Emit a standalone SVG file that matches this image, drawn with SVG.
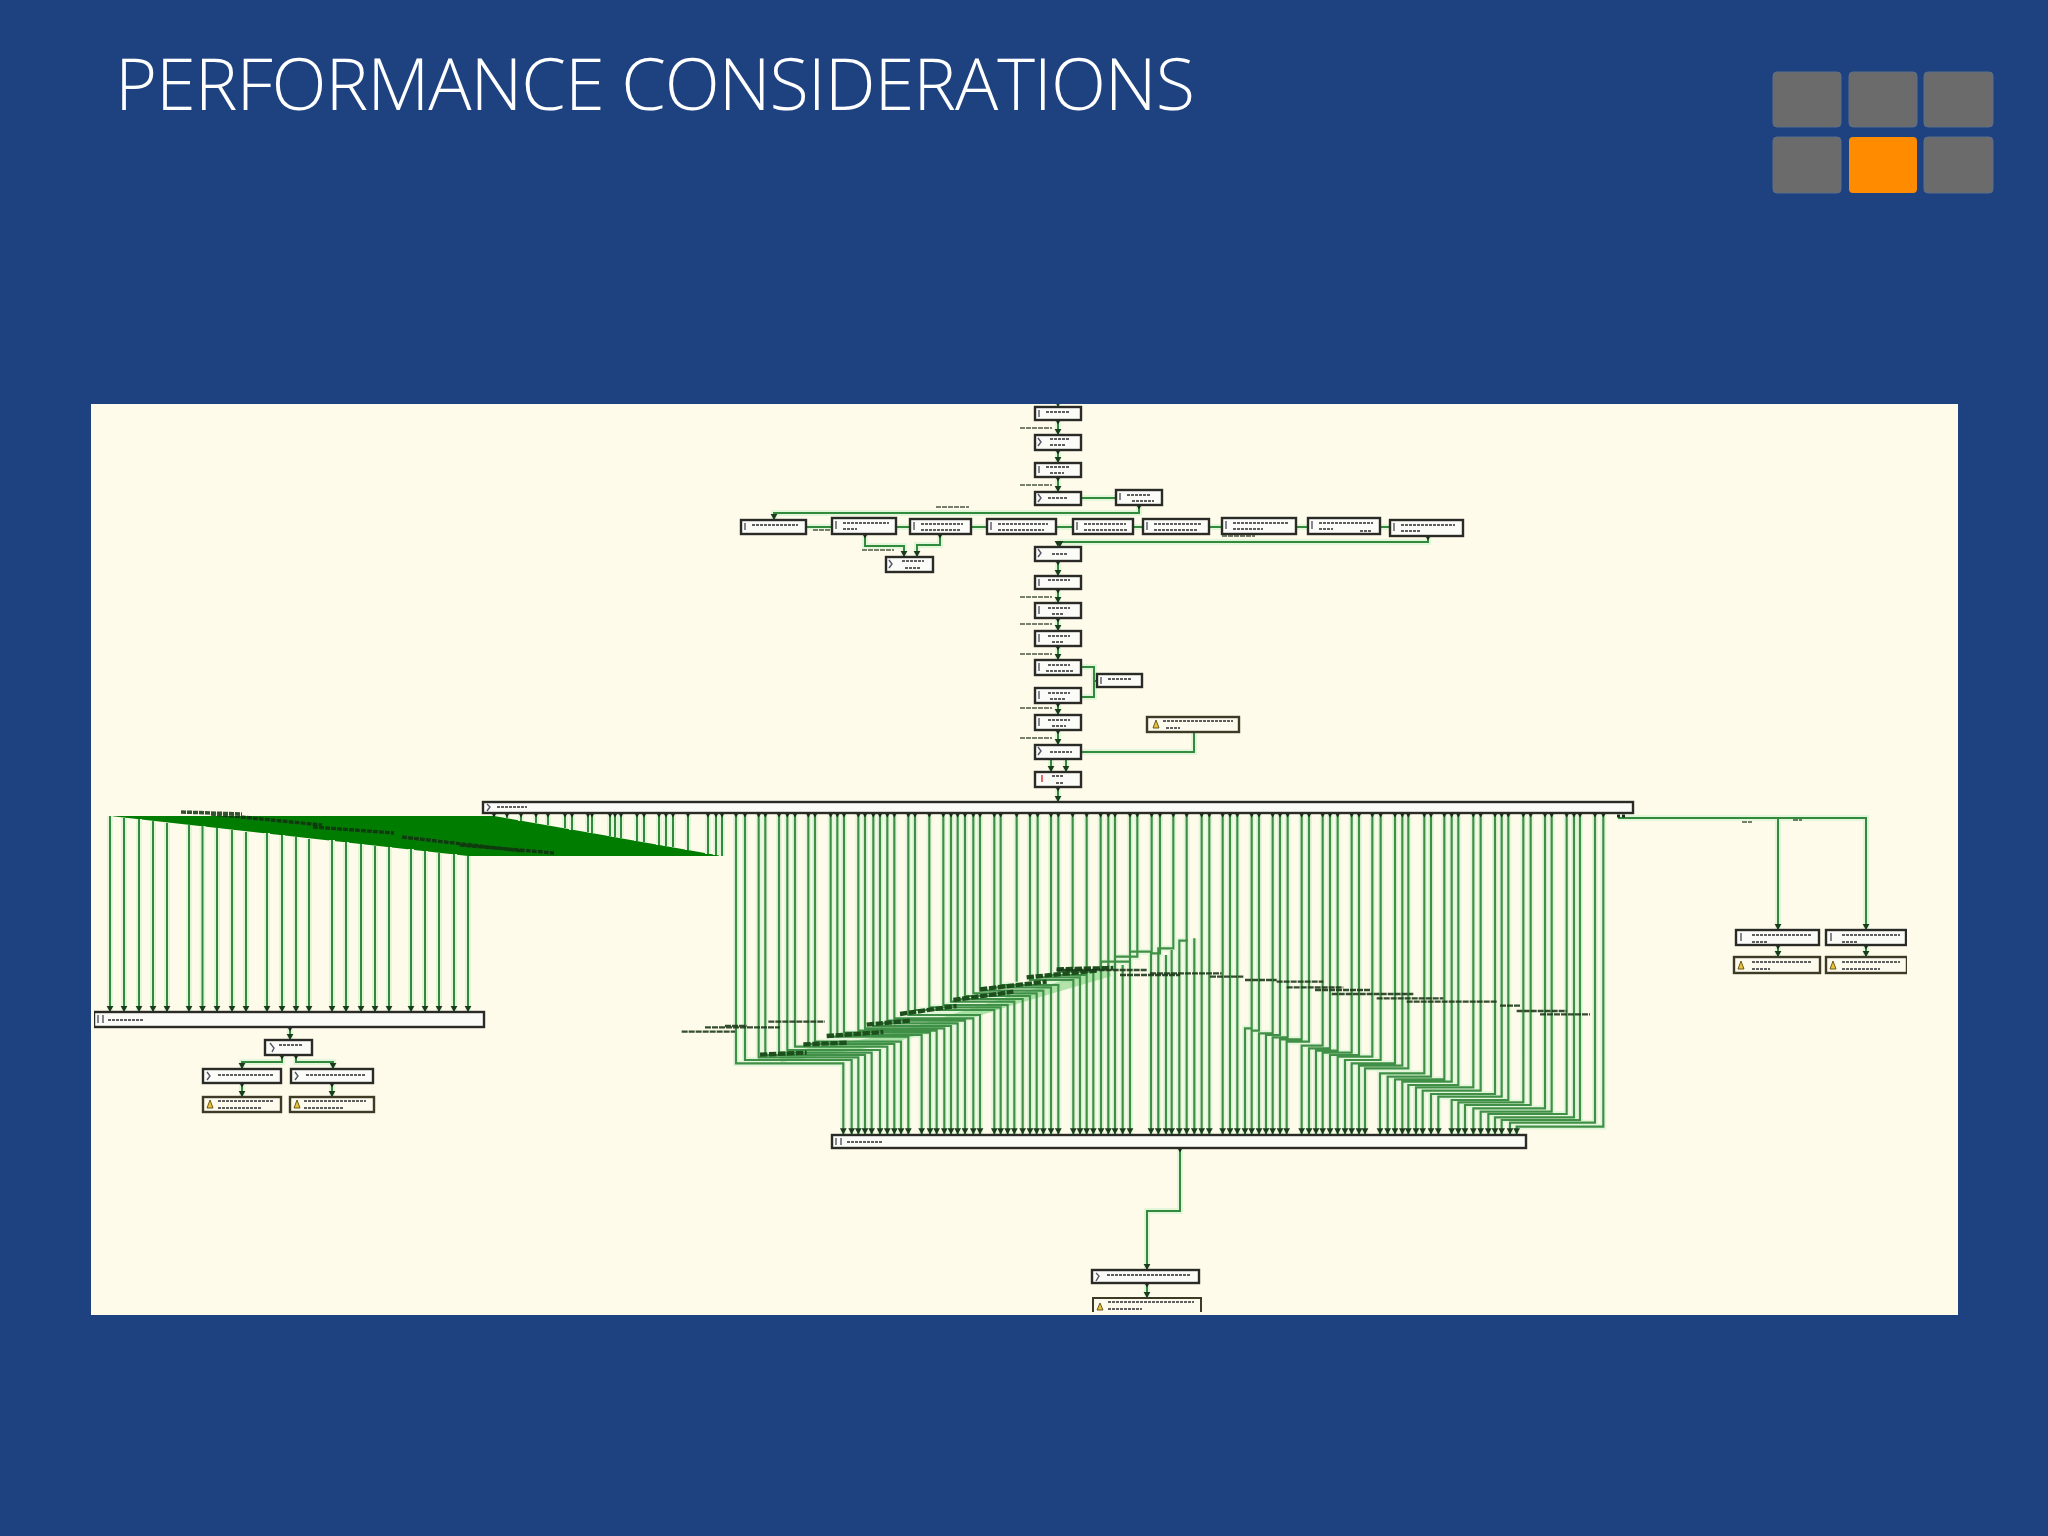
<svg xmlns="http://www.w3.org/2000/svg" width="2048" height="1536" viewBox="0 0 2048 1536">
<style>
.title{font-family:"Open Sans","Liberation Sans",sans-serif;font-weight:300;font-size:72px;fill:#fff}
.sq{fill:#6b6b6b;stroke:#5f6f88;stroke-width:1}
.n rect{fill:#fbfbf7;stroke:#2c2c28;stroke-width:2.4}
.w rect{fill:#fdfbee;stroke:#3c3a28;stroke-width:2.4}
.t{fill:none;stroke:#3a3a3a;stroke-width:2;stroke-dasharray:3 1;opacity:.8}
.ic{fill:none;stroke:#556;stroke-width:1.4}
.wi{fill:#e8c23c;stroke:#6b5a18;stroke-width:1}
.lb{fill:none;stroke:#2b3a25;stroke-width:1.6;stroke-dasharray:5 1;opacity:.85}
.lb3{fill:none;stroke:#1f3a1c;stroke-width:7;stroke-dasharray:18 3;opacity:.9}
.band{fill:none;stroke:#1d4f1d;stroke-width:13;stroke-dasharray:22 5}
.under{fill:none;stroke:#6ccc6c;stroke-width:28;opacity:.5}
.h{fill:none;stroke:#e3f6da;stroke-width:6}
.c{fill:none;stroke:#338a3c;stroke-width:2}
.h3{fill:none;stroke:#e3f6da;stroke-width:18}
.c3{fill:none;stroke:#3f8f47;stroke-width:6.500}
.ar{fill:none;stroke:none;stroke-width:2;marker-start:url(#ah);marker-mid:url(#ah);marker-end:url(#ah)}
.ar3{fill:none;stroke:none;stroke-width:6;marker-start:url(#ah);marker-mid:url(#ah);marker-end:url(#ah)}
.tk{fill:none;stroke:none;stroke-width:2;marker-start:url(#tk);marker-mid:url(#tk);marker-end:url(#tk)}
.tk3{fill:none;stroke:none;stroke-width:6;marker-start:url(#tk);marker-mid:url(#tk);marker-end:url(#tk)}
</style>
<defs>
<filter id="soft" x="0" y="0" width="1" height="1"><feGaussianBlur stdDeviation="0.7"/></filter>
<marker id="ah" markerWidth="4" markerHeight="3" refX="2" refY="3" orient="0" markerUnits="strokeWidth"><path d="M0.300 0H3.700L2 3z" fill="#1c3a1c"/></marker>
<marker id="tk" markerWidth="3" markerHeight="2.500" refX="1.500" refY="0" orient="0" markerUnits="strokeWidth"><path d="M0.200 0H2.800L1.500 2.200z" fill="#1c2a1c"/></marker>
<g id="wiresA">
<path d="M110 816V1012M124 818V1012M139 819V1012M153 821V1012M167 823V1012M189 825V1012M202.500 826V1012M217 828V1012M232 830V1012M246 832V1012M267 833V1012M282 835V1012M296 837V1012M309 839V1012M332 840V1012M346 842V1012M361 844V1012M375 846V1012M389 847V1012M411 849V1012M425 851V1012M439 853V1012M454 854V1012M468 856V1012"/>
<path d="M494 813V816M507 813V818M521 813V821M536 813V823M548 813V825M565 813V828M572 813V830M588 813V832M592 813V833M610 813V836M615 813V837M621 813V838M637 813V841M644 813V842M659 813V845M666 813V846M673 813V847M688 813V850M708 813V854M716 813V855M722 813V856"/>
</g>
<g id="wiresB">
<path d="M168-261V490H490V703M195-261V480H515V703M236-261V472H535V703M256-261V465H555V703M297-261V458H575V703M322-261V450H600V703M345-261V440H622V703M385-261V432H643V703M405-261V425H663V703M452-261V410H685V703M472-261V405H725V703M492-261V398H750V703M535-261V392H770V703M555-261V385H793V703M580-261V378H813V703M600-261V370H833V703M622-261V362H855V703M643-261V355H880V703M685-261V345H900V703M705-261V330H943V703M748-261V322H962V703M790-261V315H983V703M813-261V305H1003V703M833-261V297H1028V703M855-261V288H1050V703M880-261V280H1070V703M900-261V272H1090V703M943-261V262H1113V703M962-261V255H1135V703M1050-261V240H1180V703M1073-261V232H1200V703M1113-261V225H1220V703M1135-261V215H1240V703"/>
<path d="M1350-261V185H1263V703M1372-261V170H1305V703M1415-261V155H1350V703M1440-261V160H1413V703M1480-261V145H1435V703M1520-261V122H1498V703M1565-261V703M1588-261V703M1628-261V703M1650-261V703M1672-261V703"/>
<path d="M1010-261V245M1178-261V205M1220-261V205M1262-261V205M1285-261V205M1305-261V205"/>
<path d="M1285 195V703M1328 195V703M1458 165V703M1475 150V703M1520 118V703M1543 115V703"/>
</g>
<g id="wiresC">
<path d="M1360-261V680H1100V703M1335-261V668H1080V703M1290-261V660H1055V703M1272-261V652H1035V703M1250-261V642H1015V703M1205-261V635H992V703M1185-261V625H970V703M1142-261V615H945V703M1120-261V607H925V703M1075-261V600H905V703M1055-261V590H865V703M1035-261V582H843V703M992-261V572H818V703M970-261V562H798V703M925-261V555H775V703M905-261V545H757V703M883-261V538H735V703M843-261V530H713V703M823-261V520H690V703M775-261V505H645V703M757-261V497H627V703M735-261V490H605V703M692-261V480H585V703M667-261V470H563V703M627-261V465H540V703M605-261V458H518V703M563-261V452H498V703M540-261V445H477V703M518-261V437H455V703M477-261V425H410V703M455-261V418H390V703M413-261V412H368V703M390-261V405H348V703M368-261V400H327V703M327-261V392H305V703M305-261V385H285V703"/>
</g>
<g id="wiresD">
<path d="M1058 404V407M1058 420V435M1058 450V463M1058 477V492M1081 498H1116M1139 505V513H774V520M806 527H832M896 527H910M971 527H987M1056 527H1073M1133 527H1143M1209 527H1222M1296 527H1308M1380 527H1390M865 534V546H904V557M940 534V545H917V557M1428 536V542H1060V547M1058 561V576M1058 589V603M1058 618V631M1058 646V660M1081 667H1094V697H1081M1094 681H1097M1058 703V715M1058 730V745M1081 752H1194V732M1051 759V772M1066 759V772M1058 787V802"/>
<path d="M1618 818H1866V930M1778 818V930M1778 945V957M1866 945V957M1180 1148V1211H1147V1270M1147 1283V1298M290 1027V1040M282 1055V1062H242V1069M296 1055V1062H333V1069M242 1083V1097M332 1083V1097"/>
</g>
</defs>
<rect width="2048" height="1536" fill="#1e4280"/>
<text class="title" x="115" y="110" textLength="1080" lengthAdjust="spacing">PERFORMANCE CONSIDERATIONS</text>
<g id="tiles">
<rect class="sq" x="1773" y="72" width="68" height="55" rx="4"/><rect class="sq" x="1849" y="72" width="68" height="55" rx="4"/><rect class="sq" x="1924" y="72" width="69" height="55" rx="4"/>
<rect class="sq" x="1773" y="137" width="68" height="56" rx="4"/><rect x="1849" y="137" width="68" height="56" rx="4" fill="#ff8c00"/><rect class="sq" x="1924" y="137" width="69" height="56" rx="4"/>
</g>
<rect id="panel" x="91" y="404" width="1867" height="911" fill="#fefbea"/>
<g id="diagram" filter="url(#soft)">
<g id="connectors">
<polygon points="110,816 494,816 722,856 468,856" fill="#067d06"/>
<use href="#wiresA" class="h"/>
<g transform="translate(680 900) scale(.33333)">
<use href="#wiresB" class="h3"/>
</g>
<g transform="translate(1150 900) scale(.33333)">
<use href="#wiresC" class="h3"/>
</g>
<use href="#wiresD" class="h"/>
<g transform="translate(680 900) scale(.33333)">
<path class="under" d="M300 473L620 420L1000 300L1290 215"/>
<use href="#wiresB" class="c3"/>
<path class="tk3" d="M168-261H195H236H256H297H322H345H385H405H452H472H492H535H555H580H600H622H643H685H705H748H790H813H833H855H880H900H943H962H1010H1050H1073H1113H1135H1178H1220H1262H1285H1305H1350H1372H1415H1440H1480H1520H1565H1588H1628H1650H1672"/>
<path class="ar3" d="M490 703H515H535H555H575H600H622H643H663H685H725H750H770H793H813H833H855H880H900H943H962H983H1003H1028H1050H1070H1090H1113H1135H1180H1200H1220H1240H1263H1285H1305H1328H1350H1413H1435H1458H1475H1498H1520H1543H1565H1588H1628H1650H1672"/>
<path class="band" d="M240 464L380 458M370 433L505 428M440 408L610 396M560 374L690 362M660 342L830 318M820 300L1000 275M900 268L1100 245M1040 232L1250 212M1130 208L1300 204"/>
<path class="lb3" d="M265 365H435M135 378H200M75 382H300M5 395H165M1130 210H1400M1320 225H1500"/>
</g>
<g transform="translate(1150 900) scale(.33333)">
<use href="#wiresC" class="c3"/>
<path class="tk3" d="M305-261H327H368H390H413H455H477H518H540H563H605H627H667H692H735H757H775H823H843H883H905H925H970H992H1035H1055H1075H1120H1142H1185H1205H1250H1272H1290H1335H1360"/>
<path class="ar3" d="M285 703H305H327H348H368H390H410H455H477H498H518H540H563H585H605H627H645H690H713H735H757H775H798H818H843H865H905H925H945H970H992H1015H1035H1055H1080H1100"/>
<path class="lb3" d="M0 220H215M180 230H280M285 240H380M380 245H520M410 262H580M495 270H660M545 282H790M680 295H880M770 305H1040M1050 317H1110M1100 333H1250M1170 343H1320"/>
</g>
<use href="#wiresA" class="c"/>
<use href="#wiresD" class="c"/>
<path class="tk" d="M494 813H507H521H536H548H565H572H588H592H610H615H621H637H644H659H666H673H688H708H716H722"/>
<path class="ar" d="M110 1012H124H139H153H167H189H202.500H217H232H246H267H282H296H309H332H346H361H375H389H411H425H439H454H468"/>
<path class="ar" d="M1058 407V435V463V492V547V576V603V631V660V715V745V802M1051 772H1066M904 557H917M774 520M1060 547M1778 930H1866M1778 957H1866M1147 1270V1298M290 1040M242 1069H333M242 1097H332M1194 732"/>
<path class="tk" d="M1058 420V450V477V561V589V618V646V703V730V787M1180 1148M1147 1283M290 1027M865 534M940 534M1428 536M1139 505M1778 945M1866 945M282 1055M296 1055M242 1083M332 1083"/>
<path style="fill:none;stroke:#1c2a1c;stroke-width:3;stroke-dasharray:3 2" d="M1617 816H1627"/>
<path class="lb" d="M181 812L242 814M211 814L322 825M313 827L394 833M402 837L523 851M460 845L554 853" style="stroke-width:3.500;stroke:#123312"/>
<path class="lb" d="M1020 428H1052M1020 485H1052M936 507H969M1222 536H1255M862 550H894M1020 597H1052M1020 624H1052M1020 654H1052M1020 708H1052M1020 738H1052M813 530H832M1742 822H1752M1793 820H1802"/>
</g>
<g id="n1" class="n"><rect x="1035" y="407" width="46" height="13"/><path class="ic" d="M1039 410v7"/><path class="t" d="M1046 412h24"/></g>
<g id="n2" class="n"><rect x="1035" y="435" width="46" height="15"/><path class="ic" d="M1038 438l3 4l-3 4"/><path class="t" d="M1050 439h20M1050 445h16"/></g>
<g id="n3" class="n"><rect x="1035" y="463" width="46" height="14"/><path class="ic" d="M1039 466v7"/><path class="t" d="M1046 467h24M1050 473h14"/></g>
<g id="n4" class="n"><rect x="1035" y="492" width="46" height="13"/><path class="ic" d="M1038 494l3 4l-3 4"/><path class="t" d="M1048 498h20"/></g>
<g id="n4b" class="n"><rect x="1116" y="490" width="46" height="15"/><path class="ic" d="M1120 493v7"/><path class="t" d="M1127 495h24M1132 501h22"/></g>
<g id="r1" class="n"><rect x="741" y="520" width="65" height="14"/><path class="ic" d="M745 523v7"/><path class="t" d="M752 525h46"/></g>
<g id="r2" class="n"><rect x="832" y="518" width="64" height="16"/><path class="ic" d="M836 521v8"/><path class="t" d="M843 523h46M843 529h14"/></g>
<g id="r3" class="n"><rect x="910" y="519" width="61" height="15"/><path class="ic" d="M914 522v8"/><path class="t" d="M921 524h42M921 530h40"/></g>
<g id="r4" class="n"><rect x="987" y="519" width="69" height="15"/><path class="ic" d="M991 522v8"/><path class="t" d="M998 524h50M998 530h46"/></g>
<g id="r5" class="n"><rect x="1073" y="519" width="60" height="15"/><path class="ic" d="M1077 522v8"/><path class="t" d="M1084 524h42M1084 530h44"/></g>
<g id="r6" class="n"><rect x="1143" y="519" width="66" height="15"/><path class="ic" d="M1147 522v8"/><path class="t" d="M1154 524h48M1154 530h44"/></g>
<g id="r7" class="n"><rect x="1222" y="518" width="74" height="16"/><path class="ic" d="M1226 521v8"/><path class="t" d="M1233 523h56M1233 529h30"/></g>
<g id="r8" class="n"><rect x="1308" y="518" width="72" height="16"/><path class="ic" d="M1312 521v8"/><path class="t" d="M1319 523h54M1319 529h14M1360 531h12"/></g>
<g id="r9" class="n"><rect x="1390" y="520" width="73" height="16"/><path class="ic" d="M1394 523v8"/><path class="t" d="M1401 525h54M1401 531h20"/></g>
<g id="r10" class="n"><rect x="886" y="557" width="47" height="15"/><path class="ic" d="M889 560l3 4l-3 4"/><path class="t" d="M902 561h22M905 568h16"/></g>
<g id="n5" class="n"><rect x="1035" y="547" width="46" height="14"/><path class="ic" d="M1038 549l3 4l-3 4"/><path class="t" d="M1052 554h16"/></g>
<g id="n6" class="n"><rect x="1035" y="576" width="46" height="13"/><path class="ic" d="M1039 579v7"/><path class="t" d="M1048 580h22"/></g>
<g id="n7" class="n"><rect x="1035" y="603" width="46" height="15"/><path class="ic" d="M1039 606v8"/><path class="t" d="M1048 608h22M1052 614h12"/></g>
<g id="n8" class="n"><rect x="1035" y="631" width="46" height="15"/><path class="ic" d="M1039 634v8"/><path class="t" d="M1048 636h22M1052 642h12"/></g>
<g id="n9" class="n"><rect x="1035" y="660" width="46" height="15"/><path class="ic" d="M1039 663v8"/><path class="t" d="M1048 665h22M1046 671h28"/></g>
<g id="n9b" class="n"><rect x="1097" y="674" width="45" height="13"/><path class="ic" d="M1101 677v7"/><path class="t" d="M1108 679h24"/></g>
<g id="n10" class="n"><rect x="1035" y="688" width="46" height="15"/><path class="ic" d="M1039 691v8"/><path class="t" d="M1048 693h22M1050 699h16"/></g>
<g id="n11" class="n"><rect x="1035" y="715" width="46" height="15"/><path class="ic" d="M1039 718v8"/><path class="t" d="M1048 720h22M1052 726h14"/></g>
<g id="n12" class="n"><rect x="1035" y="745" width="46" height="14"/><path class="ic" d="M1038 747l3 4l-3 4"/><path class="t" d="M1050 752h22"/></g>
<g id="w1" class="w"><rect x="1147" y="717" width="92" height="15"/><path class="wi" d="M1153 728l3-8l3 8z"/><path class="t" d="M1163 721h70M1166 728h14"/></g>
<g id="n13" class="n"><rect x="1035" y="772" width="46" height="15"/><path d="M1042 775v7" fill="none" stroke="#e06a6a" stroke-width="2"/><path class="t" d="M1052 776h12M1056 783h8"/></g>
<g id="bar1" class="n"><rect x="483" y="802" width="1150" height="11"/><path class="ic" d="M487 804l3 3l-3 4"/><path class="t" d="M497 807h30"/></g>
<g id="bar2" class="n"><rect x="94" y="1012" width="390" height="15"/><path class="ic" d="M98 1015v8M103 1015v8"/><path class="t" d="M108 1020h36"/></g>
<g id="l1" class="n"><rect x="265" y="1040" width="47" height="15"/><path class="ic" d="M270 1043l4 5l-2 4"/><path class="t" d="M279 1045h24"/></g>
<g id="l2" class="n"><rect x="203" y="1069" width="78" height="14"/><path class="ic" d="M207 1072l3 4l-3 4"/><path class="t" d="M218 1075h56"/></g>
<g id="l3" class="n"><rect x="291" y="1069" width="82" height="14"/><path class="ic" d="M295 1072l3 4l-3 4"/><path class="t" d="M306 1075h60"/></g>
<g id="l4" class="w"><rect x="203" y="1097" width="78" height="15"/><path class="wi" d="M207 1108l3-8l3 8z"/><path class="t" d="M218 1101h56M218 1108h44"/></g>
<g id="l5" class="w"><rect x="290" y="1097" width="84" height="15"/><path class="wi" d="M294 1108l3-8l3 8z"/><path class="t" d="M304 1101h62M304 1108h40"/></g>
<g id="bar3" class="n"><rect x="832" y="1135" width="694" height="13"/><path class="ic" d="M836 1138v7M841 1138v7"/><path class="t" d="M847 1142h36"/></g>
<g id="b1" class="n"><rect x="1092" y="1270" width="107" height="13"/><path class="ic" d="M1096 1273l3 3l-3 5"/><path class="t" d="M1107 1275h84"/></g>
<g id="b2" class="w"><path d="M1093 1312V1298H1201V1312" fill="#fdfbee" stroke="#3c3a28" stroke-width="2"/><path class="wi" d="M1097 1310l3-7l3 7z"/><path class="t" d="M1108 1302h86M1108 1309h34"/></g>
<g id="s1" class="n"><rect x="1736" y="930" width="83" height="15"/><path class="ic" d="M1741 933v8"/><path class="t" d="M1752 935h60M1752 942h16"/></g>
<g id="s2" class="n"><rect x="1826" y="930" width="80" height="15"/><path class="ic" d="M1831 933v8"/><path class="t" d="M1842 935h58M1842 942h16"/></g>
<g id="s3" class="w"><rect x="1734" y="957" width="86" height="16"/><path class="wi" d="M1738 969l3-8l3 8z"/><path class="t" d="M1752 962h60M1752 969h18"/></g>
<g id="s4" class="w"><rect x="1826" y="957" width="81" height="16"/><path class="wi" d="M1830 969l3-8l3 8z"/><path class="t" d="M1842 962h58M1842 969h38"/></g>
</g>
</svg>
